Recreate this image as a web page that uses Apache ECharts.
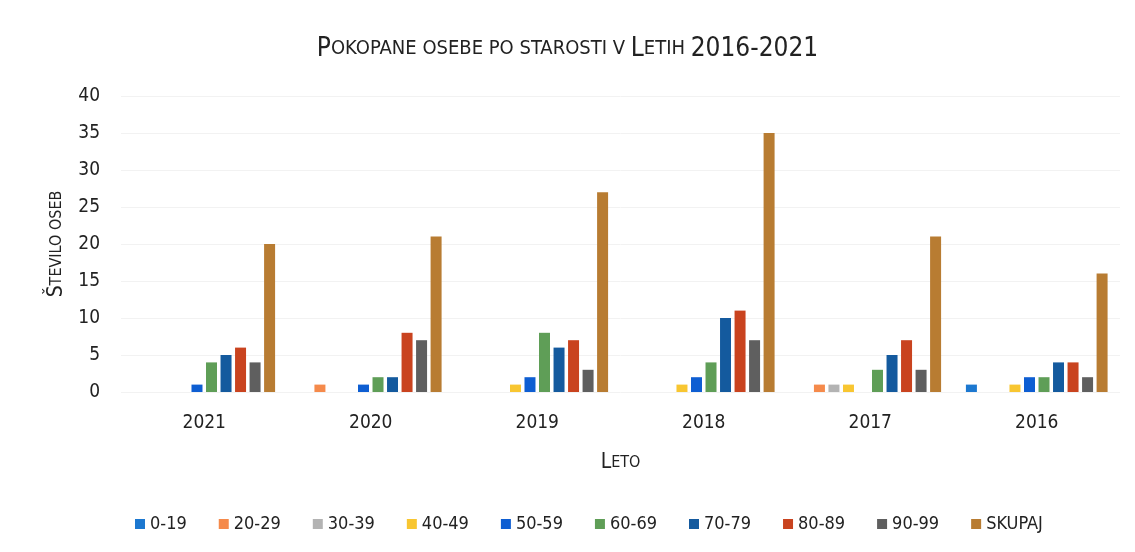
<!DOCTYPE html>
<html>
<head>
<meta charset="utf-8">
<script src="https://cdn.jsdelivr.net/npm/echarts@6/dist/echarts.min.js"></script>
<style>
  html, body { margin: 0; padding: 0; background: #fff; }
  #chart { width: 1135px; height: 552px; }
</style>
</head>
<body>
<div id="chart"></div>
<script>
const years = ['2021', '2020', '2019', '2018', '2017', '2016'];
const ageGroups = ['0-19', '20-29', '30-39', '40-49', '50-59', '60-69', '70-79', '80-89', '90-99', 'SKUPAJ'];
const yTicks = [0, 5, 10, 15, 20, 25, 30, 35, 40];

// one array per age group, values ordered as years
const v0_19   = [0, 0, 0, 0, 0, 1];
const v20_29  = [0, 1, 0, 0, 1, 0];
const v30_39  = [0, 0, 0, 0, 1, 0];
const v40_49  = [0, 0, 1, 1, 1, 1];
const v50_59  = [1, 1, 2, 2, 0, 2];
const v60_69  = [4, 2, 8, 4, 3, 2];
const v70_79  = [5, 2, 6, 10, 5, 4];
const v80_89  = [6, 8, 7, 11, 7, 4];
const v90_99  = [4, 7, 3, 7, 3, 2];
const skupaj  = [20, 21, 27, 35, 21, 16];

const seriesValues = [v0_19, v20_29, v30_39, v40_49, v50_59, v60_69, v70_79, v80_89, v90_99, skupaj];
const colors = ['#1c78d0', '#f58a4b', '#b3b3b3', '#f8c631', '#0e5ed2', '#5f9e57', '#145a9e', '#c9431f', '#5f5f5f', '#b87c32'];

const font = "'Liberation Sans Narrow', 'DejaVu Sans Condensed', 'Liberation Sans', sans-serif";

const chart = echarts.init(document.getElementById('chart'));

const option = {
  backgroundColor: '#fff',
  textStyle: { fontFamily: font },
  title: {
    text: '{b|P}{s|OKOPANE OSEBE PO STAROSTI V }{b|L}{s|ETIH }{b|2016-2021}',
    left: 'center',
    top: 31,
    textStyle: {
      fontWeight: 'normal',
      rich: {
        b: { fontSize: 26, color: '#222', fontFamily: font, fontWeight: 'normal' },
        s: { fontSize: 20, color: '#222', fontFamily: font, fontWeight: 'normal' }
      }
    }
  },
  legend: {
    bottom: 14,
    left: 130,
    itemWidth: 10,
    itemHeight: 10,
    itemGap: 32,
    icon: 'rect',
    textStyle: { fontSize: 18, color: '#222', fontFamily: font },
    data: ageGroups
  },
  grid: {
    left: 121,
    right: 15,
    top: 96,
    bottom: 160
  },
  xAxis: {
    type: 'category',
    data: years,
    name: '{b|L}{s|ETO}',
    nameLocation: 'middle',
    nameGap: 60,
    nameTextStyle: {
      rich: {
        b: { fontSize: 21, color: '#222', fontFamily: font },
        s: { fontSize: 16, color: '#222', fontFamily: font }
      }
    },
    axisLine: { show: false },
    axisTick: { show: false },
    axisLabel: { fontSize: 19, color: '#222', margin: 22 }
  },
  yAxis: {
    type: 'value',
    min: yTicks[0],
    max: yTicks[yTicks.length - 1],
    interval: 5,
    name: '{b|Š}{s|TEVILO OSEB}',
    nameLocation: 'middle',
    nameGap: 54,
    nameRotate: 90,
    nameTextStyle: {
      rich: {
        b: { fontSize: 21, color: '#222', fontFamily: font },
        s: { fontSize: 16, color: '#222', fontFamily: font }
      }
    },
    axisLabel: { fontSize: 19, color: '#222', margin: 21 },
    axisLine: { show: false },
    axisTick: { show: false },
    splitLine: { lineStyle: { color: '#f2f2f2' } }
  },
  series: ageGroups.map((name, i) => ({
    name: name,
    type: 'bar',
    data: seriesValues[i],
    barWidth: 11,
    barGap: '32%',
    itemStyle: { color: colors[i] }
  }))
};

chart.setOption(option);
</script>
</body>
</html>
